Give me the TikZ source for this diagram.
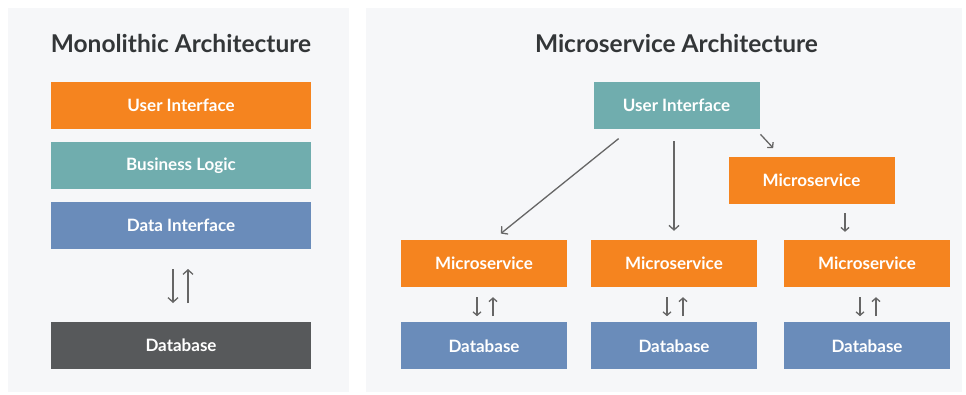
\documentclass[tikz,border=0pt]{standalone}
\usepackage{fontspec}
\setmainfont{Lato}
\usetikzlibrary{positioning}
\usetikzlibrary{arrows.meta}

\definecolor{uiorange}{HTML}{F5841F}
\definecolor{logicteal}{HTML}{70ADAE}
\definecolor{dbblue}{HTML}{6A8CBA}
\definecolor{dbgray}{HTML}{57595B}
\definecolor{panelbg}{HTML}{F6F7F9}
\definecolor{titlegray}{HTML}{333638}
\definecolor{arrowgray}{HTML}{666666}

\begin{document}
\begin{tikzpicture}[x=1pt, y=-1pt,
			panel/.style={fill=panelbg, draw=none},
			title/.style={font=\bfseries\fontsize{24.5}{28}\selectfont, text=titlegray},
			bigbox/.style={rectangle, minimum width=260pt, minimum height=47pt, text=white, font=\bfseries\fontsize{17}{20}\selectfont},
			smallbox/.style={rectangle, minimum width=166pt, minimum height=47pt, text=white, font=\bfseries\fontsize{17}{20}\selectfont},
			arrow/.style={-{Straight Barb[length=4.5pt, width=10pt]}, draw=arrowgray, line width=1.3pt},
			pair/.style={-{Straight Barb[length=3.5pt, width=8pt]}, draw=arrowgray, line width=1.3pt}
			]
			\useasboundingbox (0,0) rectangle (966,394);
			% Panels
			\fill[white] (0,0) rectangle (966,394);
			\fill[panel] (8,8) rectangle (349,392);
			\fill[panel] (366,8) rectangle (962,392);
			
			% Monolithic
			\node[title] (monotitle) at (181,43) {Monolithic Architecture};
			\node[bigbox, fill=uiorange] (ui) at (181,105.5) {User Interface};
			\node[bigbox, fill=logicteal, below=13pt of ui] (logic) {Business Logic};
			\node[bigbox, fill=dbblue, below=12pt of logic] (datai) {Data Interface};
			\node[bigbox, fill=dbgray, below=73pt of datai] (db) {Database};
			
			% Microservices
			\node[title] (microtitle) at (676.5,43) {Microservice Architecture};
			\node[smallbox, fill=logicteal] (mui) at (676.5,105.5) {User Interface};
			\node[smallbox, fill=uiorange] (mstop) at (811.5,180.5) {Microservice};
			\node[smallbox, fill=uiorange] (msa) at (484,263.5) {Microservice};
			\node[smallbox, fill=uiorange] (msb) at (674,263.5) {Microservice};
			\node[smallbox, fill=uiorange] (msc) at (867,263.5) {Microservice};
			\node[smallbox, fill=dbblue, below=35pt of msa] (dba) {Database};
			\node[smallbox, fill=dbblue, below=35pt of msb] (dbb) {Database};
			\node[smallbox, fill=dbblue, below=35pt of msc] (dbc) {Database};
			
			% Arrows
			\draw[arrow, shorten <=20pt, shorten >=19pt] ([xshift=-8pt]datai.south) -- ([xshift=-8pt]db.north);
			\draw[arrow, shorten <=19pt, shorten >=20pt] ([xshift=7pt]db.north) -- ([xshift=7pt]datai.south);
			\draw[arrow, shorten <=15pt, shorten >=10pt] ([xshift=37pt]mui.south west) -- ([xshift=9pt]msa.north);
			\draw[arrow, shorten <=12pt, shorten >=9pt] (msb.north |- mui.south) -- (msb.north);
			\draw[pair, shorten <=7pt, shorten >=12pt] ([xshift=-4pt]mui.south east) -- ([xshift=53pt]mstop.north west);
			\draw[pair, shorten <=9pt, shorten >=8pt] ([xshift=-22pt]msc.north |- mstop.south) -- ([xshift=-22pt]msc.north);
			\foreach \ms/\db in {msa/dba, msb/dbb, msc/dbc} {
				\draw[pair, shorten <=10pt, shorten >=6pt] ([xshift=-7pt]\ms.south) -- ([xshift=-7pt]\db.north);
				\draw[pair, shorten <=6pt, shorten >=10pt] ([xshift=9pt]\db.north) -- ([xshift=9pt]\ms.south);
			}
		\end{tikzpicture}
\end{document}
